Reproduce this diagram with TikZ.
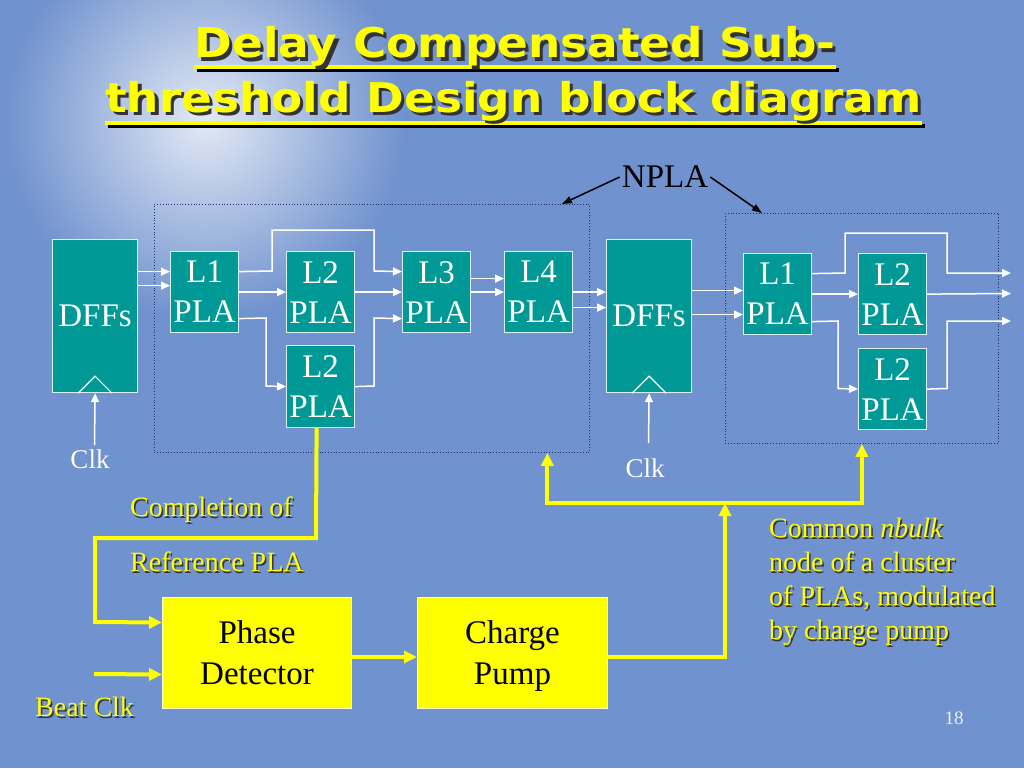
\documentclass[tikz,border=0pt]{standalone}
\usepackage{fontspec}
\setmainfont{Liberation Serif}
\newfontfamily\titlefont{DejaVu Sans}
\usepackage{graphicx}
\usetikzlibrary{arrows.meta}
\definecolor{bg}{RGB}{112,146,206}
\definecolor{tealbox}{RGB}{0,153,150}
\definecolor{ybox}{RGB}{255,255,0}
\definecolor{dotc}{RGB}{35,45,105}
\definecolor{boxline}{RGB}{215,240,240}
\newcommand\myshtxt[2]{\rlap{\hspace{#1}\raisebox{-#1}[0pt][0pt]{\color{black!80}#2}}#2}
\begin{document}
\begin{tikzpicture}[x=1pt,y=-1pt,
  blk/.style={draw=boxline, line width=1.2pt, fill=tealbox, text=white, inner sep=0pt, align=center, font=\fontsize{33}{40}\selectfont, anchor=north west, minimum width=68pt, minimum height=81pt},
  ybk/.style={draw=white!80!yellow, line width=1pt, fill=ybox, text=black, inner sep=0pt, align=center, font=\fontsize{33}{41}\selectfont, anchor=north west, minimum width=189pt, minimum height=111pt},
  grp/.style={draw=dotc, dotted, line width=0.8pt, inner sep=0pt, anchor=north west},
  warr/.style={draw=white, line width=1.5pt, -{Triangle[length=9pt,width=8pt]}},
  wln/.style={draw=white, line width=1.2pt},
  yarr/.style={draw=ybox, line width=4pt, -{Triangle[length=13pt,width=12pt]}},
  barr/.style={draw=black, line width=1.5pt, -{Triangle[length=10pt,width=7pt]}},
  ylab/.style={text=ybox, font=\fontsize{28}{34}\selectfont, inner sep=0pt, anchor=west},
  clk/.style={text=white, font=\fontsize{27}{32}\selectfont, inner sep=0pt},
  ttl/.style={anchor=base, inner sep=0pt, text=ybox, font=\titlefont\bfseries\fontsize{41}{48}\selectfont},
]
% background
\useasboundingbox (0,0) rectangle (1024,768);
\clip (0,0) rectangle (1024,768);
\fill[bg] (0,0) rectangle (1024,768);
\shade[inner color=white!80!bg, outer color=bg] (205,120) circle (200);

% title underlines (with shadow)
\draw[black, line width=4pt] (197,70) -- (839,70);
\draw[black, line width=4pt] (108,126) -- (925,126);
\draw[ybox, line width=4pt] (194,67) -- (836,67);
\draw[ybox, line width=4pt] (105,123) -- (922,123);
% title
\node[ttl] (t1) at (515,58) {\scalebox{1.107}[1]{\myshtxt{3pt}{Delay Compensated Sub-}}};
\node[ttl] (t2) at (513.5,112) {\scalebox{1.107}[1]{\myshtxt{3pt}{threshold Design block diagram}}};

% groups
\node[grp, minimum width=435pt, minimum height=248pt] (G1) at (154,204) {};
\node[grp, minimum width=273pt, minimum height=230pt] (G2) at (725,213) {};

% blocks left
\node[blk, minimum width=85pt, minimum height=153pt] (D1) at (52,239) {DFFs};
\node[blk] (L1) at (170,251) {L1\\PLA};
\node[blk] (L2) at (286,251) {L2\\PLA};
\node[blk, minimum height=82pt] (L2b) at (286,345) {L2\\PLA};
\node[blk] (L3) at (402,251) {L3\\PLA};
\node[blk] (L4) at (504,251) {L4\\PLA};
\node[blk, minimum width=85pt, minimum height=153pt] (D2) at (606,239) {DFFs};
% blocks right
\node[blk] (L1b) at (743,253) {L1\\PLA};
\node[blk] (L2c) at (858,253) {L2\\PLA};
\node[blk] (L2d) at (858,348) {L2\\PLA};

% clock triangles
\draw[wln] ([xshift=-17pt]D1.south) -- ([yshift=17pt]D1.south) -- ([xshift=17pt]D1.south);
\draw[wln] ([xshift=-17pt]D2.south) -- ([yshift=17pt]D2.south) -- ([xshift=17pt]D2.south);

% clocks
\coordinate (c1) at (94.5,445);
\coordinate (c2) at (648.5,443);
\draw[warr] (c1) -- (D1.south);
\draw[warr] (c2) -- (D2.south);
\node[clk] (clk1) at (90,459) {Clk};
\node[clk] (clk2) at (645,468) {Clk};

% white connectors left
\draw[warr] ([yshift=44.5pt]D1.east) -- ([yshift=20.5pt]L1.west);
\draw[warr] ([yshift=30.5pt]D1.east) -- ([yshift=6.5pt]L1.west);
\draw[warr] ([yshift=20.5pt]L1.east) -- (272,271) -- (272,230) -- (374,230) -- (374,271) -- ([yshift=20.5pt]L3.west);
\draw[warr] (L1.east) -- (L2.west);
\draw[warr] ([yshift=-26.5pt]L1.east) -- (266,318) -- (266,386) -- (L2b.west);
\draw[warr] (L2.east) -- (L3.west);
\draw[warr] (L2b.east) -- (374,386) -- (374,318) -- ([yshift=-26.5pt]L3.west);
\draw[warr] ([yshift=13.5pt]L3.east) -- ([yshift=13.5pt]L4.west);
\draw[warr] (L3.east) -- (L4.west);
\draw[warr] (L4.east) -- ([yshift=24pt]D2.west);
\draw[warr] ([yshift=-15.5pt]L4.east) -- ([yshift=8.5pt]D2.west);

% white connectors right
\coordinate (o1) at (1011,273);
\coordinate (o2) at (1011,293.5);
\coordinate (o3) at (1011,321);
\draw[warr] ([yshift=25.5pt]D2.east) -- ([yshift=3.5pt]L1b.west);
\draw[warr] ([yshift=1.5pt]D2.east) -- ([yshift=-20.5pt]L1b.west);
\draw[warr] ([yshift=20.5pt]L1b.east) -- (845,273) -- (845,233) -- (947,233) -- (947,273) -- (o1);
\draw[warr] (L1b.east) -- (L2c.west);
\draw[warr] ([yshift=-27.5pt]L1b.east) -- (838,321) -- (838,388.5) -- (L2d.west);
\draw[warr] (L2c.east) -- (o2);
\draw[warr] (L2d.east) -- (947,388.5) -- (947,321) -- (o3);

% NPLA
\node[text=black, font=\fontsize{33}{40}\selectfont, inner sep=2pt] (npla) at (665,177) {NPLA};
\draw[barr] (npla.west) -- ([xshift=-28pt]G1.north east);
\draw[barr] (npla.east) -- ([xshift=37pt]G2.north west);

% yellow boxes
\node[ybk] (PD) at (162,597) {Phase\\Detector};
\node[ybk, minimum width=190pt] (CP) at (417,597) {Charge\\\raisebox{0pt}[\height][0pt]{Pump}};

% yellow connectors
\coordinate (bc) at (94,674);
\coordinate (J) at (725,503);
\draw[yarr] ([xshift=-4pt]L2b.south) -- (316,538) -- (95,538) -- (95,622) -- ([yshift=30.5pt]PD.west);
\draw[yarr] (bc) -- ([yshift=-21.5pt]PD.west);
\draw[yarr] ([yshift=-4pt]PD.east) -- ([yshift=-4pt]CP.west);
\draw[yarr] ([yshift=-3.5pt]CP.east) -| (J);
\draw[yarr] (J) -| ([xshift=175.5pt]G1.south);
\draw[yarr] (J) -| (G2.south);

% yellow labels with shadows
\node[ylab] (comp) at (130,510) {\myshtxt{1.5pt}{Completion of}};
\node[ylab] (ref) at (130,562) {\myshtxt{1.5pt}{Reference PLA}};
\node[ylab] (beat) at (35,707) {\myshtxt{1.5pt}{Beat Clk}};
\node[ylab, align=left] (comm) at (769,582) {\myshtxt{1.5pt}{Common \textit{nbulk}}\\\myshtxt{1.5pt}{node of a cluster}\\\myshtxt{1.5pt}{of PLAs, modulated}\\\myshtxt{1.5pt}{by charge pump}};

% page number
\node[text=white!85!bg, font=\fontsize{19}{22}\selectfont, inner sep=0pt] (pg) at (954,718) {18};
\end{tikzpicture}
\end{document}
